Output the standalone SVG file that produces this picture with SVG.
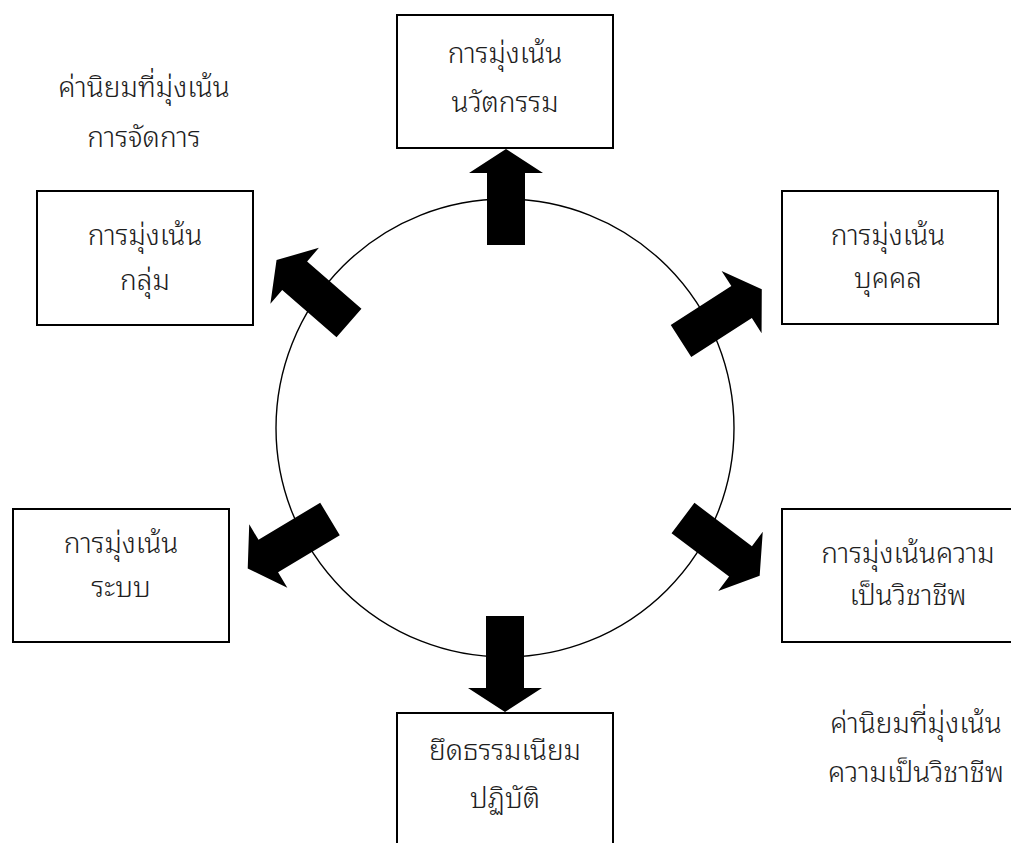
<svg xmlns="http://www.w3.org/2000/svg" width="1011" height="843" viewBox="0 0 1011 843">
  <style>
    .box { fill: #ffffff; stroke: #000000; stroke-width: 2; }
    .ring { fill: none; stroke: #000000; stroke-width: 1.4; }
    .lbl { font-family: "Noto Sans Thai Looped", "Noto Sans Thai", "Noto Sans", "DejaVu Sans", sans-serif; font-size: 28px; font-weight: 300; fill: #1e1e1e; text-anchor: middle; }
    .arrow { fill: #000000; }
  </style>
  <defs>
    <!-- block arrow pointing along +x, tail at the origin -->
    <polygon id="blk" points="0,-19 72,-19 72,-37 96,0 72,37 72,19 0,19"/>
  </defs>
  <rect width="1011" height="843" fill="#ffffff"/>

  <circle class="ring" cx="505" cy="428" r="229"/>

  <g id="connectors" class="arrow">
    <use href="#blk" transform="translate(506,245) rotate(-90)"/>
    <use href="#blk" transform="translate(505,616) rotate(90)"/>
    <use href="#blk" transform="translate(349,323) rotate(221)"/>
    <use href="#blk" transform="translate(681,341) rotate(-32.7)"/>
    <use href="#blk" transform="translate(330,519) rotate(149)"/>
    <use href="#blk" transform="translate(683,518) rotate(37)"/>
  </g>

  <g id="innovation">
    <rect class="box" x="397" y="15" width="216" height="133"/>
    <text class="lbl" x="505" y="63">การมุ่งเน้น</text>
    <text class="lbl" x="505" y="112">นวัตกรรม</text>
  </g>

  <g id="management-values">
    <text class="lbl" x="144" y="97">ค่านิยมที่มุ่งเน้น</text>
    <text class="lbl" x="144" y="147">การจัดการ</text>
  </g>

  <g id="group">
    <rect class="box" x="37" y="191" width="216" height="134"/>
    <text class="lbl" x="145" y="245">การมุ่งเน้น</text>
    <text class="lbl" x="145" y="290">กลุ่ม</text>
  </g>

  <g id="individual">
    <rect class="box" x="782" y="191" width="216" height="133"/>
    <text class="lbl" x="888" y="245">การมุ่งเน้น</text>
    <text class="lbl" x="888" y="288">บุคคล</text>
  </g>

  <g id="system">
    <rect class="box" x="13" y="509" width="216" height="133"/>
    <text class="lbl" x="121" y="553">การมุ่งเน้น</text>
    <text class="lbl" x="121" y="597">ระบบ</text>
  </g>

  <g id="professionalism">
    <rect class="box" x="782" y="509" width="240" height="133"/>
    <text class="lbl" x="908" y="563">การมุ่งเน้นความ</text>
    <text class="lbl" x="908" y="605">เป็นวิชาชีพ</text>
  </g>

  <g id="tradition">
    <rect class="box" x="397" y="713" width="216" height="140"/>
    <text class="lbl" x="505" y="760">ยึดธรรมเนียม</text>
    <text class="lbl" x="505" y="808">ปฏิบัติ</text>
  </g>

  <g id="professional-values">
    <text class="lbl" x="916" y="733">ค่านิยมที่มุ่งเน้น</text>
    <text class="lbl" x="916" y="782">ความเป็นวิชาชีพ</text>
  </g>
</svg>
